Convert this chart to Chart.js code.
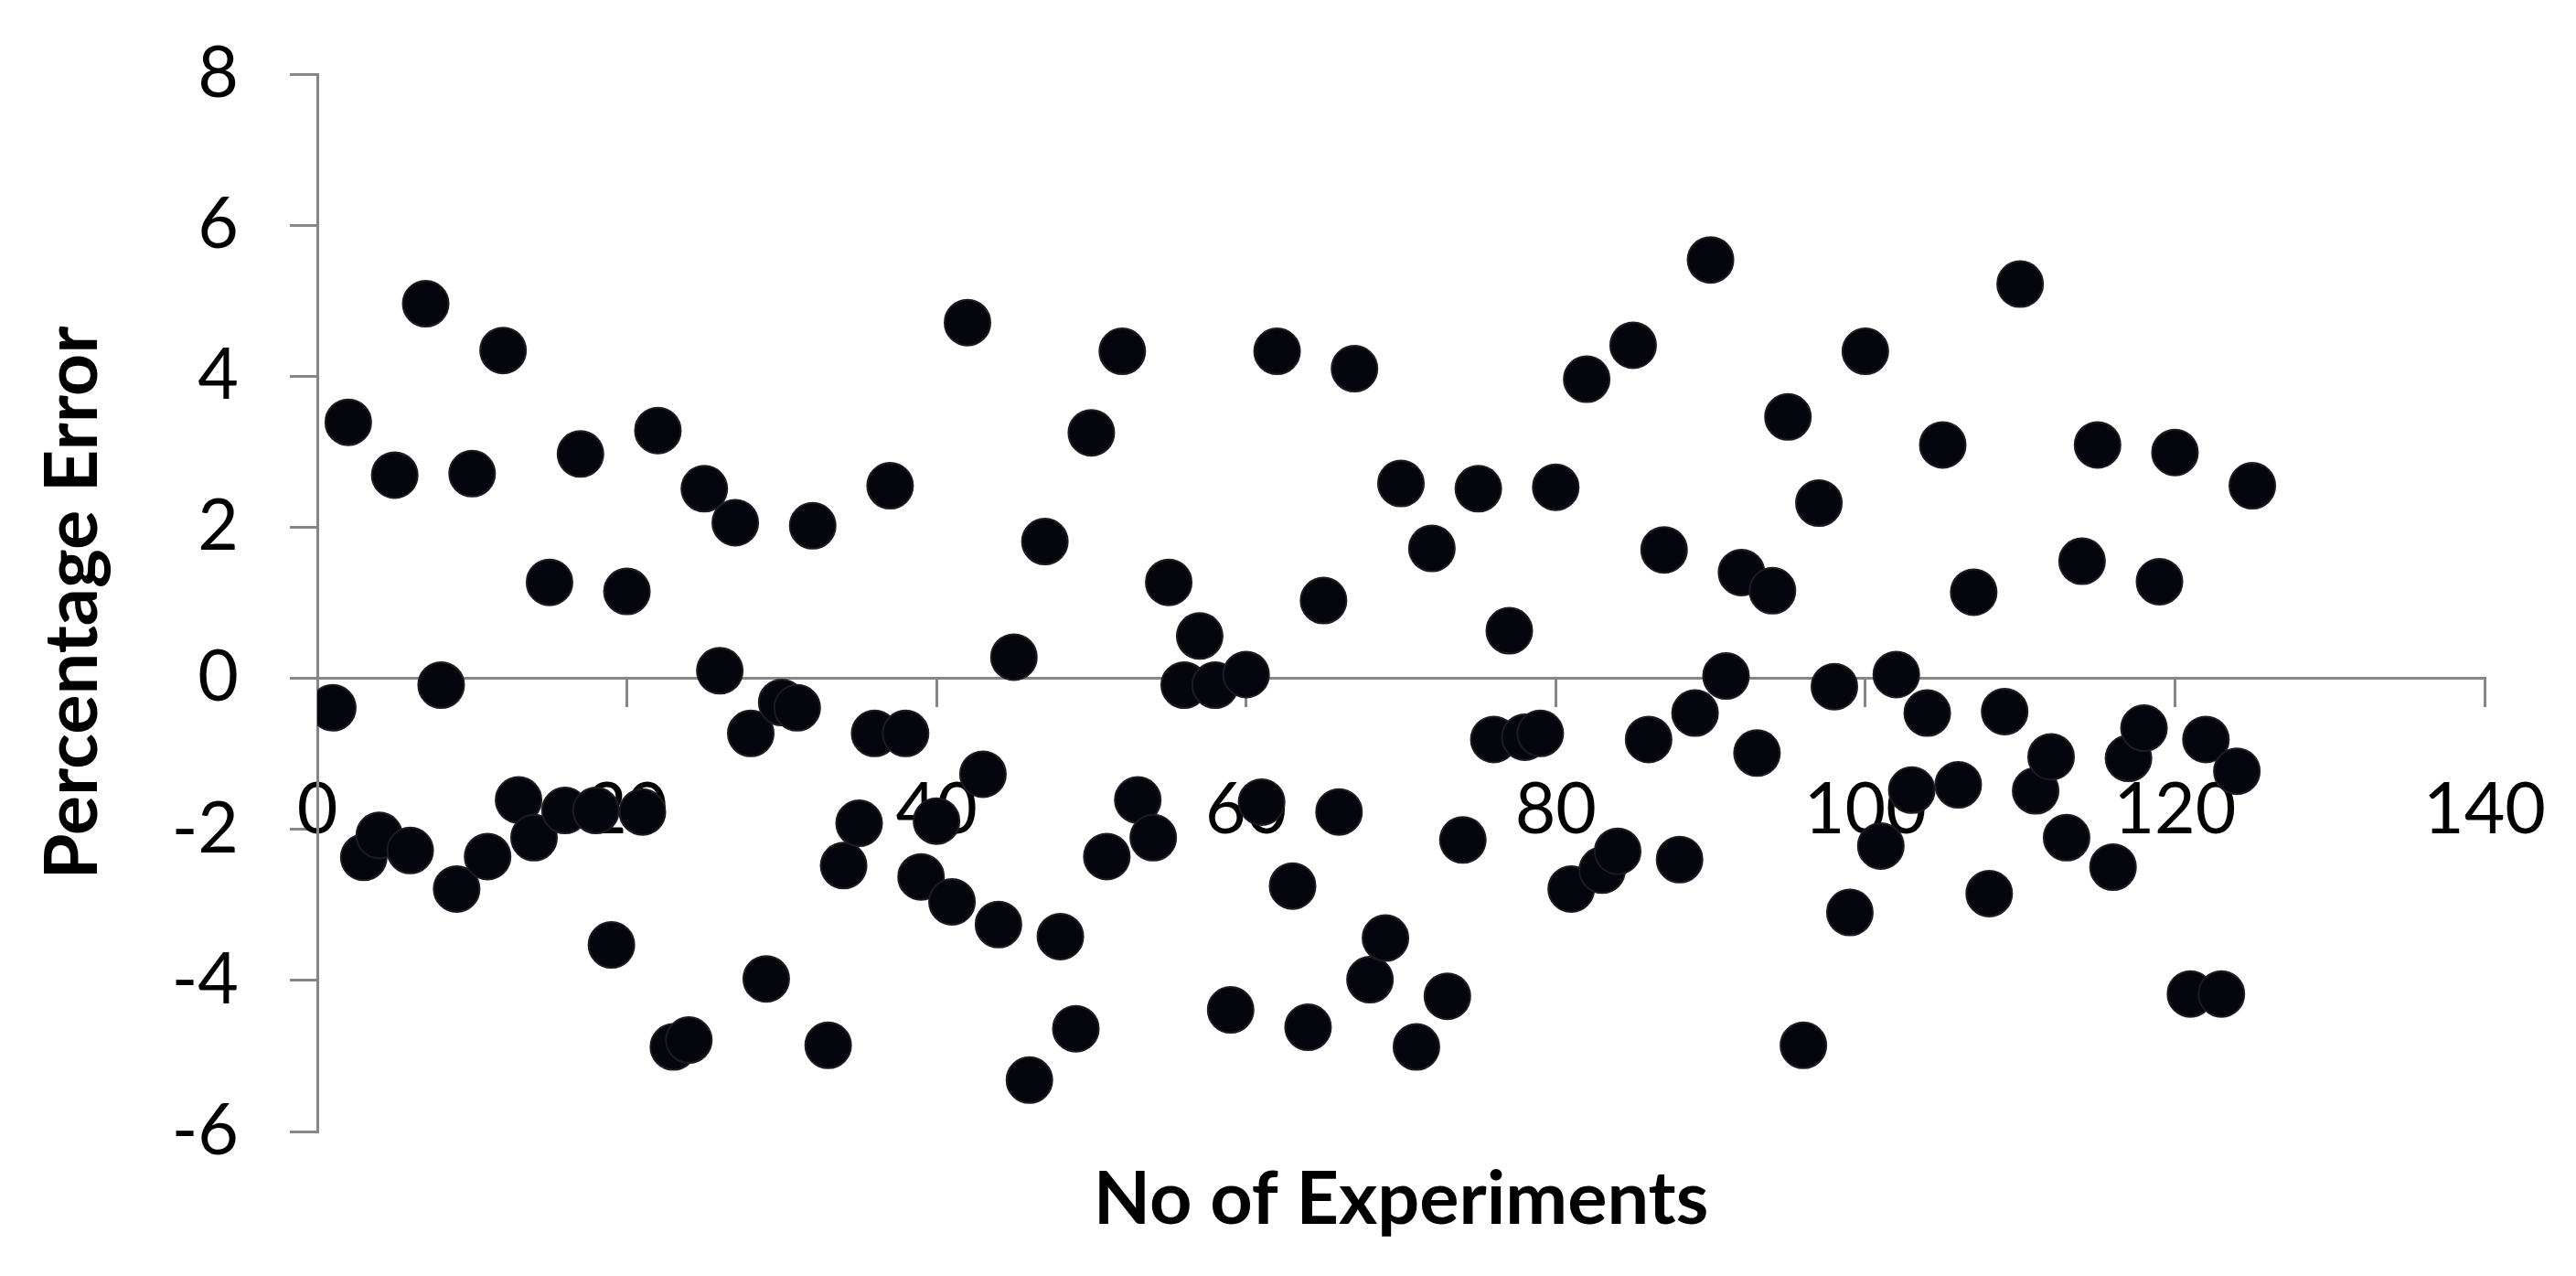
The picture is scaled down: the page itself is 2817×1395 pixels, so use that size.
<!DOCTYPE html>
<html>
<head>
<meta charset="utf-8">
<script src="https://cdn.jsdelivr.net/npm/chart.js@4.4.0/dist/chart.umd.min.js"></script>
<style>
  html, body { margin: 0; padding: 0; background: #ffffff; }
  #wrap { width: 2817px; height: 1395px; }
</style>
</head>
<body>
<div id="wrap"><canvas id="c" width="2817" height="1395"></canvas></div>
<script>
const experiments = [
  1,2,3,4,5,6,7,8,9,10,11,12,13,14,15,16,17,18,19,20,
  21,22,23,24,25,26,27,28,29,30,31,32,33,34,35,36,37,38,39,40,
  41,42,43,44,45,46,47,48,49,50,51,52,53,54,55,56,57,58,59,60,
  61,62,63,64,65,66,67,68,69,70,71,72,73,74,75,76,77,78,79,80,
  81,82,83,84,85,86,87,88,89,90,91,92,93,94,95,96,97,98,99,100,
  101,102,103,104,105,106,107,108,109,110,111,112,113,114,115,116,117,118,119,120,
  121,122,123,124,125
];
const percentageError = [
  -0.39, 3.39, -2.37, -2.08, 2.69, -2.28, 4.96, -0.09, -2.79, 2.71,
  -2.36, 4.34, -1.61, -2.11, 1.27, -1.75, 2.97, -1.75, -3.53, 1.15,
  -1.77, 3.28, -4.88, -4.79, 2.51, 0.10, 2.06, -0.73, -3.98, -0.32,
  -0.39, 2.02, -4.86, -2.48, -1.92, -0.73, 2.55, -0.73, -2.63, -1.89,
  -2.96, 4.71, -1.27, -3.26, 0.28, -5.32, 1.81, -3.42, -4.64, 3.25,
  -2.36, 4.33, -1.61, -2.11, 1.27, -0.09, 0.56, -0.09, -4.39, 0.05,
  -1.64, 4.33, -2.75, -4.62, 1.03, -1.77, 4.10, -3.99, -3.44, 2.58,
  -4.88, 1.72, -4.21, -2.14, 2.51, -0.81, 0.63, -0.78, -0.73, 2.53,
  -2.79, 3.96, -2.54, -2.29, 4.41, -0.81, 1.70, -2.40, -0.46, 5.54,
  0.03, 1.40, -0.99, 1.16, 3.46, -4.86, 2.32, -0.11, -3.10, 4.33,
  -2.22, 0.05, -1.48, -0.46, 3.09, -1.41, 1.14, -2.85, -0.44, 5.22,
  -1.49, -1.04, -2.11, 1.55, 3.09, -2.50, -1.06, -0.66, 1.28, 2.99,
  -4.18, -0.81, -4.18, -1.23, 2.55
];
const xTickValues = [0, 20, 40, 60, 80, 100, 120, 140];
const yTickValues = [-6, -4, -2, 0, 2, 4, 6, 8];
const xTitle = 'No of Experiments';
const yTitle = 'Percentage Error';

const points = experiments.map((e, i) => ({ x: e, y: percentageError[i] }));
const axisGray = '#868686';
const tickFont = { family: 'Lato', size: 77, weight: 'normal' };
const titleFont = { family: 'Lato', size: 81, weight: 'bold' };

new Chart(document.getElementById('c'), {
  type: 'scatter',
  data: {
    datasets: [{
      label: yTitle,
      data: points,
      backgroundColor: '#05050d',
      borderColor: '#1c1c24',
      borderWidth: 2,
      pointRadius: 25,
      pointHoverRadius: 25
    }]
  },
  options: {
    responsive: false,
    animation: false,
    devicePixelRatio: 1,
    layout: { padding: { top: 81, right: 100, bottom: 0, left: 0 } },
    plugins: { legend: { display: false }, tooltip: { enabled: false } },
    scales: {
      x: {
        type: 'linear',
        position: { y: 0 },
        min: 0, max: 140,
        afterBuildTicks: (s) => { s.ticks = xTickValues.map(v => ({ value: v })); },
        ticks: { color: '#000', font: tickFont, padding: 68, maxRotation: 0, autoSkip: false },
        grid: { drawOnChartArea: false, color: axisGray, lineWidth: 3, tickLength: 30 },
        border: { display: true, color: axisGray, width: 3 },
        afterFit: (s) => { s.paddingLeft = 0; s.paddingRight = 0; }
      },
      x2: {
        type: 'linear',
        position: 'bottom',
        min: 0, max: 140,
        ticks: { display: false },
        grid: { display: false, drawTicks: false },
        border: { display: false },
        title: { display: true, text: xTitle, color: '#000', font: titleFont, padding: { top: 0, bottom: 35 } },
        afterFit: (s) => { s.height = 158; s.paddingLeft = 0; s.paddingRight = 0; }
      },
      y: {
        type: 'linear',
        position: 'left',
        min: -6, max: 8,
        afterBuildTicks: (s) => { s.ticks = yTickValues.map(v => ({ value: v })); },
        ticks: { color: '#000', font: tickFont, padding: 56 },
        grid: { drawOnChartArea: false, color: axisGray, lineWidth: 3, tickLength: 30 },
        border: { display: true, color: axisGray, width: 3 },
        title: { display: true, text: yTitle, color: '#000', font: titleFont, padding: { top: 31, bottom: 0 } },
        afterFit: (s) => { s.width = 347; s.paddingTop = 0; s.paddingBottom = 0; }
      }
    }
  }
});
</script>
</body>
</html>
